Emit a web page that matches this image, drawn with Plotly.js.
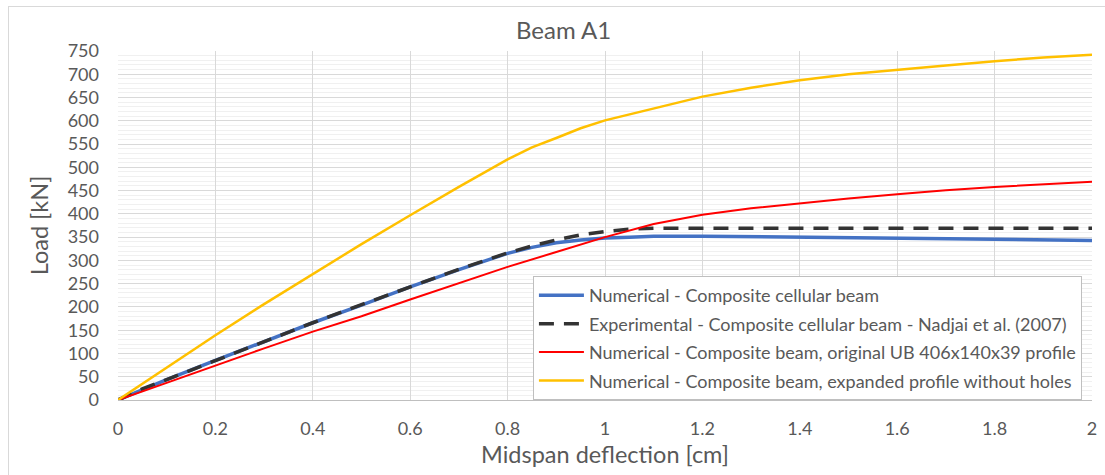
<!DOCTYPE html>
<html>
<head>
<meta charset="utf-8">
<script src="https://cdn.plot.ly/plotly-3.0.1.min.js"></script>
<style>
html,body{margin:0;padding:0;background:#fff;}
#wrap{position:relative;width:1105px;height:475px;overflow:hidden;}
#chart{width:1105px;height:475px;}
#frame{position:absolute;left:8px;top:6px;width:1200px;height:600px;border:1px solid #d9d9d9;pointer-events:none;}
</style>
</head>
<body>
<div id="wrap"><div id="chart"></div><div id="frame"></div></div>
<script>
const blueX = [0, 0.05, 0.1, 0.2, 0.3, 0.4, 0.5, 0.6, 0.7, 0.8, 0.85, 0.9, 0.95, 1.0, 1.05, 1.1, 1.2, 1.3, 1.4, 1.5, 1.6, 1.7, 1.8, 1.9, 2.0];
const blueY = [0, 22, 44, 85, 125, 166, 204, 243, 280, 315, 328, 338, 344, 348, 350, 352, 352, 351, 350, 349, 347, 346, 345, 344, 343];

const blackX = [0, 0.05, 0.1, 0.2, 0.3, 0.4, 0.5, 0.6, 0.7, 0.8, 0.85, 0.9, 0.95, 1.0, 1.05, 1.1, 1.2, 1.4, 1.6, 1.8, 2.0];
const blackY = [0, 24, 44, 85, 126, 166, 205, 244, 281, 316, 331, 344, 355, 362, 367, 369, 369, 369, 369, 369, 369];

const redX = [0, 0.1, 0.2, 0.3, 0.4, 0.5, 0.6, 0.7, 0.8, 0.9, 1.0, 1.1, 1.2, 1.3, 1.4, 1.5, 1.6, 1.7, 1.8, 1.9, 2.0];
const redY = [0, 37, 75, 111, 147, 180, 216, 251, 286, 318, 350, 378, 398, 412, 423, 433, 442, 451, 458, 464, 469];

const yellowX = [0, 0.1, 0.2, 0.3, 0.4, 0.5, 0.6, 0.7, 0.8, 0.85, 0.9, 0.95, 1.0, 1.1, 1.2, 1.3, 1.4, 1.5, 1.6, 1.7, 1.8, 1.9, 2.0];
const yellowY = [0, 69, 139, 206, 271, 335, 397, 458, 517, 543, 563, 584, 601, 627, 652, 671, 687, 700, 710, 719, 728, 736, 742];

const seriesNames = [
  "Numerical - Composite cellular beam",
  "Experimental - Composite cellular beam - Nadjai et al. (2007)",
  "Numerical - Composite beam, original UB 406x140x39 profile",
  "Numerical - Composite beam, expanded profile without holes"
];

const FONT = "Lato, 'Open Sans', sans-serif";
const TXT = "#595959";

const traces = [
  {x: blueX, y: blueY, name: seriesNames[0], legendgroup: "a", mode: "lines",
   line: {color: "#4472C4", width: 3.5}},
  {x: blackX, y: blackY, name: seriesNames[1], legendgroup: "b", mode: "lines",
   line: {color: "#333333", width: 3.5, dash: "15px,10px"}},
  {x: redX, y: redY, name: seriesNames[2], legendgroup: "c", mode: "lines",
   line: {color: "#FF0000", width: 2}},
  {x: yellowX, y: yellowY, name: seriesNames[3], legendgroup: "d", mode: "lines",
   line: {color: "#FFC000", width: 2.5}}
];

const layout = {
  width: 1105, height: 475,
  margin: {l: 117.5, r: 12.5, t: 50.7, b: 75},
  paper_bgcolor: "#ffffff", plot_bgcolor: "#ffffff",
  font: {family: FONT, color: TXT, size: 18},
  title: {text: "Beam A1", font: {family: FONT, size: 24, color: TXT}, x: 0.51, xanchor: "center", y: 0.935, yanchor: "middle"},
  showlegend: true,
  legend: {
    x: 0.426, y: 0.355, xanchor: "left", yanchor: "top",
    bgcolor: "#ffffff", bordercolor: "#bfbfbf", borderwidth: 1,
    font: {family: FONT, size: 18, color: TXT},
    tracegroupgap: 2, itemwidth: 45
  },
  xaxis: {
    range: [0, 2], dtick: 0.2, tick0: 0,
    showgrid: true, gridcolor: "#d9d9d9", gridwidth: 1,
    zeroline: false, showline: true, linecolor: "#bfbfbf", linewidth: 1,
    ticks: "", ticklen: 0, ticklabelstandoff: 12,
    tickfont: {family: FONT, size: 18, color: TXT},
    title: {text: "Midspan deflection [cm]", font: {family: FONT, size: 23.5, color: TXT}, standoff: 8}
  },
  yaxis: {
    range: [0, 750], dtick: 50, tick0: 0,
    showgrid: true, gridcolor: "#d9d9d9", gridwidth: 1,
    minor: {dtick: 10, showgrid: true, gridcolor: "#f0f0f0", gridwidth: 1},
    zeroline: false, showline: false,
    ticks: "", ticklen: 0, ticklabelstandoff: 18,
    tickfont: {family: FONT, size: 18, color: TXT},
    title: {text: "Load [kN]", font: {family: FONT, size: 23.5, color: TXT}, standoff: 12}
  }
};

Plotly.newPlot("chart", traces, layout, {displayModeBar: false, staticPlot: true});
</script>
</body>
</html>
